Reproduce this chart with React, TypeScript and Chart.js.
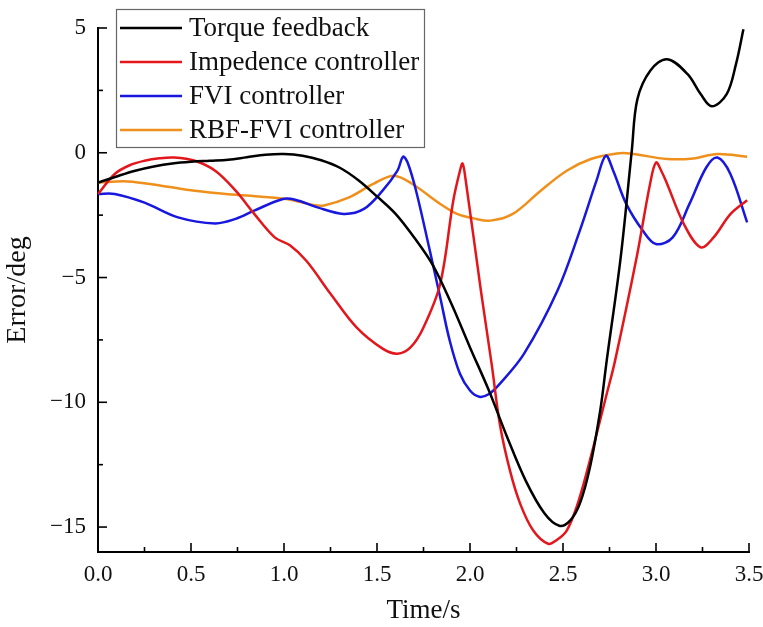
import React, { useEffect, useRef } from "react";
import { Chart, registerables } from "chart.js";

Chart.register(...registerables);

// ---- Data (time in s, error in deg) ----
const torqueT = [0, 0.1, 0.2, 0.3, 0.4, 0.5, 0.6, 0.7, 0.8, 0.9, 1.0, 1.1, 1.2, 1.3, 1.4, 1.5, 1.6, 1.7, 1.8, 1.9, 2.0, 2.1, 2.2, 2.3, 2.4, 2.48, 2.538, 2.59, 2.645, 2.7, 2.735, 2.81, 2.87, 2.9, 2.97, 3.06, 3.17, 3.24, 3.3, 3.38, 3.43, 3.47];
const torqueY = [-1.2, -0.95, -0.72, -0.55, -0.43, -0.36, -0.32, -0.28, -0.18, -0.08, -0.05, -0.12, -0.3, -0.6, -1.1, -1.75, -2.45, -3.4, -4.5, -6.05, -7.8, -9.5, -11.4, -13.15, -14.45, -14.95, -14.74, -14.07, -12.6, -10.34, -8.33, -4.2, 0.1, 2.15, 3.3, 3.75, 3.15, 2.35, 1.86, 2.35, 3.55, 4.95];

const impT = [0, 0.09, 0.17, 0.25, 0.33, 0.41, 0.52, 0.63, 0.74, 0.84, 0.95, 1.03, 1.12, 1.25, 1.39, 1.53, 1.61, 1.68, 1.75, 1.84, 1.91, 1.945, 1.96, 1.975, 2.06, 2.117, 2.161, 2.215, 2.27, 2.34, 2.42, 2.47, 2.52, 2.573, 2.63, 2.735, 2.78, 2.896, 2.968, 3.0, 3.03, 3.06, 3.15, 3.24, 3.31, 3.4, 3.49];
const impY = [-1.65, -0.85, -0.5, -0.32, -0.22, -0.19, -0.32, -0.72, -1.52, -2.45, -3.39, -3.7, -4.33, -5.65, -7.0, -7.85, -8.05, -7.8, -7.0, -5.25, -1.92, -0.75, -0.43, -1.0, -5.6, -8.5, -10.9, -12.74, -14.07, -15.14, -15.67, -15.5, -15.14, -14.2, -12.74, -9.67, -8.33, -4.19, -1.25, -0.39, -0.75, -1.25, -2.86, -3.79, -3.39, -2.46, -1.9];

const fviT = [0, 0.09, 0.25, 0.43, 0.63, 0.74, 0.84, 0.99, 1.06, 1.18, 1.32, 1.43, 1.53, 1.61, 1.64, 1.665, 1.71, 1.78, 1.84, 1.89, 1.946, 2.0, 2.05, 2.1, 2.16, 2.29, 2.47, 2.59, 2.68, 2.73, 2.77, 2.84, 2.93, 3.0, 3.09, 3.18, 3.27, 3.33, 3.4, 3.49];
const fviY = [-1.65, -1.65, -2.0, -2.59, -2.83, -2.65, -2.32, -1.86, -1.88, -2.19, -2.45, -2.25, -1.52, -0.72, -0.16, -0.4, -1.52, -3.79, -5.8, -7.5, -8.86, -9.53, -9.78, -9.68, -9.26, -8.06, -5.53, -3.13, -1.12, -0.12, -0.72, -2.05, -3.13, -3.66, -3.39, -2.05, -0.59, -0.19, -0.85, -2.79];

const rbfT = [0, 0.16, 0.34, 0.52, 0.7, 0.88, 1.02, 1.15, 1.21, 1.35, 1.48, 1.59, 1.69, 1.84, 1.93, 2.02, 2.11, 2.23, 2.38, 2.52, 2.65, 2.79, 2.86, 3.06, 3.2, 3.33, 3.49];
const rbfY = [-1.19, -1.15, -1.32, -1.52, -1.66, -1.76, -1.86, -2.08, -2.12, -1.79, -1.25, -0.92, -1.25, -2.05, -2.45, -2.63, -2.72, -2.45, -1.52, -0.72, -0.25, -0.03, -0.03, -0.25, -0.23, -0.05, -0.16];

const seriesLabels = ["Torque feedback", "Impedence controller", "FVI controller", "RBF-FVI controller"];
const seriesColors = ["#000000", "#e3161b", "#1717e0", "#f0901c"];

const xMajorTicks = [0, 0.5, 1.0, 1.5, 2.0, 2.5, 3.0, 3.5];
const xMinorTicks = [0.25, 0.75, 1.25, 1.75, 2.25, 2.75, 3.25];
const yMajorTicks = [-15, -10, -5, 0, 5];
const yMinorTicks = [-12.5, -7.5, -2.5, 2.5];

const FONT = "'Liberation Serif', 'Times New Roman', serif";

function pts(t: number[], v: number[]) {
  return t.map((x, i) => ({ x, y: v[i] }));
}

const innerTicks = {
  id: "innerTicks",
  afterDraw(chart: any) {
    const { ctx, chartArea, scales } = chart;
    const xs = scales.x;
    const ys = scales.y;
    ctx.save();
    ctx.strokeStyle = "#000";
    ctx.lineWidth = 1.6;
    const drawX = (v: number, len: number) => {
      const px = xs.getPixelForValue(v);
      ctx.beginPath();
      ctx.moveTo(px, chartArea.bottom);
      ctx.lineTo(px, chartArea.bottom - len);
      ctx.stroke();
    };
    const drawY = (v: number, len: number) => {
      const py = ys.getPixelForValue(v);
      ctx.beginPath();
      ctx.moveTo(chartArea.left, py);
      ctx.lineTo(chartArea.left + len, py);
      ctx.stroke();
    };
    xMajorTicks.forEach((v) => drawX(v, 9));
    xMinorTicks.forEach((v) => drawX(v, 5));
    yMajorTicks.forEach((v) => drawY(v, 9));
    yMinorTicks.forEach((v) => drawY(v, 5));
    ctx.restore();
  },
};

const boxLegend = {
  id: "boxLegend",
  afterDraw(chart: any) {
    const { ctx, chartArea } = chart;
    const left = chartArea.left + 18;
    const top = chartArea.top - 19;
    const w = 308;
    const h = 138;
    ctx.save();
    ctx.fillStyle = "#ffffff";
    ctx.fillRect(left, top, w, h);
    ctx.strokeStyle = "#666";
    ctx.lineWidth = 1.2;
    ctx.strokeRect(left + 0.5, top + 0.5, w, h);
    ctx.font = `27px ${FONT}`;
    ctx.textBaseline = "middle";
    ctx.textAlign = "left";
    chart.data.datasets.forEach((ds: any, i: number) => {
      const y = top + 19 + i * 34;
      ctx.strokeStyle = ds.borderColor;
      ctx.lineWidth = 2.5;
      ctx.beginPath();
      ctx.moveTo(left + 4, y);
      ctx.lineTo(left + 66, y);
      ctx.stroke();
      ctx.fillStyle = "#111";
      ctx.fillText(ds.label, left + 73, y + 1);
    });
    ctx.restore();
  },
};

export default function App() {
  const ref = useRef<HTMLCanvasElement | null>(null);

  useEffect(() => {
    if (!ref.current) return;
    const data = [pts(torqueT, torqueY), pts(impT, impY), pts(fviT, fviY), pts(rbfT, rbfY)];
    const chart = new Chart(ref.current, {
      type: "line",
      data: {
        datasets: data.map((d, i) => ({
          label: seriesLabels[i],
          data: d,
          borderColor: seriesColors[i],
          backgroundColor: seriesColors[i],
          borderWidth: 2.5,
          pointRadius: 0,
          tension: 0.35,
          fill: false,
          clip: false as any,
        })),
      },
      options: {
        animation: false,
        responsive: true,
        maintainAspectRatio: false,
        layout: { padding: { top: 28, right: 14, left: 0, bottom: 0 } },
        plugins: {
          legend: { display: false },
          tooltip: { enabled: false },
        },
        scales: {
          x: {
            type: "linear",
            min: 0,
            max: 3.5,
            afterBuildTicks: (s: any) => {
              s.ticks = xMajorTicks.map((v) => ({ value: v }));
            },
            afterFit: (s: any) => {
              s.height = 75;
              s.paddingLeft = 0;
              s.paddingRight = 0;
            },
            grid: { display: false, drawTicks: false },
            border: { display: true, color: "#000", width: 2 },
            ticks: {
              color: "#111",
              padding: 9,
              maxRotation: 0,
              font: { family: FONT, size: 23 },
              callback: (v: any) => Number(v).toFixed(1),
            },
            title: {
              display: true,
              text: "Time/s",
              color: "#111",
              padding: { top: 0, bottom: 0 },
              font: { family: FONT, size: 27 },
            },
          },
          y: {
            type: "linear",
            min: -16,
            max: 5,
            afterBuildTicks: (s: any) => {
              s.ticks = yMajorTicks.map((v) => ({ value: v }));
            },
            afterFit: (s: any) => {
              s.width = 98;
              s.paddingTop = 0;
              s.paddingBottom = 0;
            },
            grid: { display: false, drawTicks: false },
            border: { display: true, color: "#000", width: 2 },
            ticks: {
              color: "#111",
              padding: 12,
              font: { family: FONT, size: 23 },
              callback: (v: any) => (Number(v) < 0 ? "\u2212" + Math.abs(Number(v)) : String(v)),
            },
            title: {
              display: true,
              text: "Error/deg",
              color: "#111",
              padding: { top: 1, bottom: 0 },
              font: { family: FONT, size: 28 },
            },
          },
        },
      },
      plugins: [innerTicks, boxLegend],
    });
    return () => chart.destroy();
  }, []);

  return (
    <div style={{ position: "fixed", left: 0, top: 0, width: 763, height: 627, background: "#fff" }}>
      <canvas ref={ref} />
    </div>
  );
}
